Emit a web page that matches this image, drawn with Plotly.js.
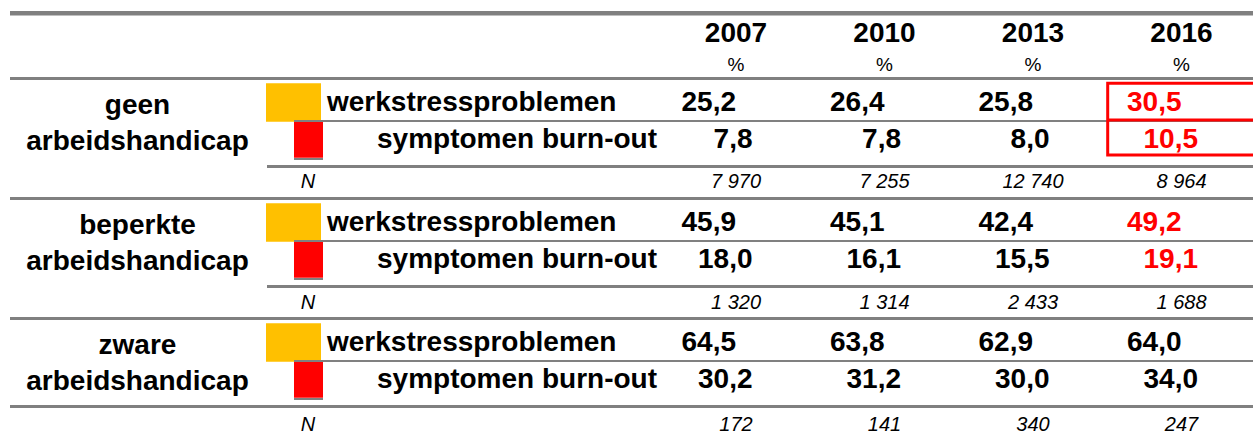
<!DOCTYPE html>
<html>
<head>
<meta charset="utf-8">
<script src="https://cdn.plot.ly/plotly-3.0.1.min.js"></script>
<style>
  html, body { margin: 0; padding: 0; background: #ffffff; }
  #chart { width: 1253px; height: 436px; }
</style>
</head>
<body>
<div id="chart"></div>
<script>
// Table data
const years = ['2007', '2010', '2013', '2016'];
const groupLabels = ['geen<br>arbeidshandicap', 'beperkte<br>arbeidshandicap', 'zware<br>arbeidshandicap'];
const rowLabels = ['werkstressproblemen', 'symptomen burn-out'];
const werkstress = [
    [25.2, 26.4, 25.8, 30.5],
    [45.9, 45.1, 42.4, 49.2],
    [64.5, 63.8, 62.9, 64.0]
];
const burnout = [
    [7.8, 7.8, 8.0, 10.5],
    [18.0, 16.1, 15.5, 19.1],
    [30.2, 31.2, 30.0, 34.0]
];
const sampleN = [
    [7970, 7255, 12740, 8964],
    [1320, 1314, 2433, 1688],
    [172, 141, 340, 247]
];
// 2016 values that are marked in red (group index)
const highlightYear = '2016';
const highlightGroups = [0, 1];

// Layout (page is drawn on a pixel-sized axis)
const W = 1253, H = 436;
const COL0 = 736, COL_STEP = 148.5;
const GROUP_STEP = 120;
const nRowY = [183, 304, 426];
const GRAY = '#808080', RED = '#ff0000', YELLOW = '#ffc000';
const FONT = 'Liberation Sans, Arial, sans-serif';
const BIG = 28;

const colX = years.map((_, i) => COL0 + i * COL_STEP);

function fmtPct(v) { return v.toFixed(1).replace('.', ','); }
function fmtN(n) { return String(n).replace(/\B(?=(\d{3})+(?!\d))/g, ' '); }

function textTrace(x, y, text, pos, font) {
    return {
        type: 'scatter', mode: 'text', x: x, y: y, text: text,
        textposition: pos, textfont: Object.assign({ family: FONT, color: '#000' }, font),
        hoverinfo: 'skip', showlegend: false, cliponaxis: false
    };
}

let traces = [];
traces.push(textTrace(colX, colX.map(() => 34.5), years, 'middle center', { size: BIG, weight: 'bold' }));
traces.push(textTrace(colX, colX.map(() => 66.5), years.map(() => '%'), 'middle center', { size: 19 }));

let shapes = [];
function hline(y, x0, x1, w, color) {
    shapes.push({ type: 'line', xref: 'x', yref: 'y', x0: x0, x1: x1, y0: y, y1: y, line: { color: color || GRAY, width: w } });
}
function box(x0, x1, y0, y1, color) {
    shapes.push({ type: 'rect', xref: 'x', yref: 'y', x0: x0, x1: x1, y0: y0, y1: y1, fillcolor: color, line: { width: 0 } });
}

hline(13.3, 10, W + 5, 4.5);
hline(78.5, 10, W + 5, 3);

groupLabels.forEach((label, g) => {
    const off = g * GROUP_STEP;
    const colors = years.map(y => (y === highlightYear && highlightGroups.includes(g)) ? RED : '#000');

    traces.push(textTrace([137.5], [125 + off], [label], 'middle center', { size: BIG, weight: 'bold' }));
    traces.push(textTrace([327], [103.5 + off], [rowLabels[0]], 'middle right', { size: BIG, weight: 'bold' }));
    traces.push(textTrace([657], [140.5 + off], [rowLabels[1]], 'middle left', { size: BIG, weight: 'bold' }));
    traces.push(textTrace([308], [nRowY[g]], ['N'], 'middle center', { size: 20, style: 'italic' }));

    traces.push(textTrace(colX.map(x => x - 54.5), colX.map(() => 103.5 + off),
        werkstress[g].map(fmtPct), 'middle right', { size: BIG, weight: 'bold', color: colors }));
    traces.push(textTrace(colX.map(x => x + 16.5), colX.map(() => 141 + off),
        burnout[g].map(fmtPct), 'middle left', { size: BIG, weight: 'bold', color: colors }));
    traces.push(textTrace(colX, colX.map(() => nRowY[g]),
        sampleN[g].map(fmtN), 'middle center', { size: 20, style: 'italic' }));

    // legend squares
    box(266, 321, 83.3 + off, 121.7 + off, YELLOW);
    box(294, 323, 121.7 + off, 157.7 + off, RED);

    // rules
    hline(121 + off, 294, W + 5, 2);
    hline(159 + off, 294, 323, 2);
    if (g < groupLabels.length - 1) {
        hline(166.5 + off, 267, W + 5, 3);
        hline(198.5 + off, 10, W + 5, 3);
    } else {
        hline(166.5 + off, 10, W + 5, 3);
    }
});

// red frame around the first group's 2016 values
shapes.push({ type: 'rect', xref: 'x', yref: 'y', x0: 1107.7, x1: W + 10, y0: 83.3, y1: 155,
    line: { color: RED, width: 3 }, fillcolor: 'rgba(0,0,0,0)' });
hline(120, 1107.7, W + 10, 3, RED);

const layout = {
    width: W, height: H,
    margin: { l: 0, r: 0, t: 0, b: 0 },
    paper_bgcolor: '#ffffff', plot_bgcolor: '#ffffff',
    xaxis: { range: [0, W], visible: false, fixedrange: true },
    yaxis: { range: [H, 0], visible: false, fixedrange: true },
    shapes: shapes,
    showlegend: false,
    hovermode: false
};

Plotly.newPlot('chart', traces, layout, { displayModeBar: false, staticPlot: true });
</script>
</body>
</html>
